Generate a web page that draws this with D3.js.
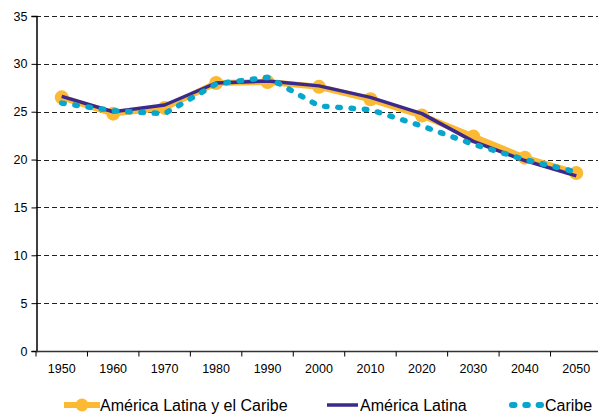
<!DOCTYPE html>
<html>
<head>
<meta charset="utf-8">
<script src="https://cdn.jsdelivr.net/npm/d3@7"></script>
<style>
  html, body { margin: 0; padding: 0; background: #fff; }
  svg { display: block; font-family: "Liberation Sans", Arial, sans-serif; }
</style>
</head>
<body>
<svg id="chart" width="598" height="415"></svg>
<script>
const years = ["1950","1960","1970","1980","1990","2000","2010","2020","2030","2040","2050"];
const alc = [26.5, 24.8, 25.4, 28.0, 28.1, 27.6, 26.3, 24.6, 22.4, 20.2, 18.6];
const al  = [26.6, 25.0, 25.7, 28.0, 28.2, 27.7, 26.5, 24.8, 21.9, 19.9, 18.3];
const caribe = [25.9, 25.1, 24.8, 27.9, 28.6, 25.6, 25.2, 23.5, 21.6, 20.0, 18.7];
const yTicks = [0, 5, 10, 15, 20, 25, 30, 35];
const seriesNames = ["América Latina y el Caribe", "América Latina", "Caribe"];

(function () {
const svg = d3.select("#chart");
const mLeft = 36, mRight = 602, mTop = 16, mBottom = 351;

const x = d3.scaleBand().domain(years).range([mLeft, mRight]);
const y = d3.scaleLinear().domain([0, 35]).range([mBottom, mTop]);
const cx = d => x(d) + x.bandwidth() / 2;

// gridlines
svg.append("g").selectAll("line").data(yTicks.filter(t => t > 0)).join("line")
  .attr("x1", mLeft).attr("x2", 598)
  .attr("y1", d => Math.round(y(d)) + 0.5).attr("y2", d => Math.round(y(d)) + 0.5)
  .attr("stroke", "#222").attr("stroke-width", 1).attr("stroke-dasharray", "5,3");

// y axis
const yAxis = svg.append("g").attr("transform", `translate(${mLeft + 0.5},0)`)
  .call(d3.axisLeft(y).tickValues(yTicks).tickSize(5).tickPadding(4));
yAxis.select(".domain").attr("stroke", "#000").attr("stroke-width", 1.5);
yAxis.selectAll(".tick line").attr("stroke", "#000");
yAxis.selectAll("text").attr("font-size", 12.5).attr("fill", "#000")
  .attr("font-family", "Liberation Sans, Arial, sans-serif");

// x axis
const xAxis = svg.append("g").attr("transform", `translate(0,${mBottom + 0.5})`);
xAxis.append("line").attr("x1", mLeft).attr("x2", mRight).attr("stroke", "#333").attr("stroke-width", 1.5);
xAxis.selectAll(".tk").data(years.concat(["end"])).join("line").attr("class", "tk")
  .attr("x1", (d, i) => mLeft + i * x.step()).attr("x2", (d, i) => mLeft + i * x.step())
  .attr("y1", 0).attr("y2", 5).attr("stroke", "#000");
xAxis.selectAll("text").data(years).join("text")
  .attr("x", d => cx(d)).attr("y", 21)
  .attr("text-anchor", "middle").attr("font-size", 12.5).attr("fill", "#000")
  .text(d => d);

const line = d3.line().x((d, i) => cx(years[i])).y(d => y(d));

// ALC orange
svg.append("path").attr("d", line(alc)).attr("fill", "none")
  .attr("stroke", "#FBB934").attr("stroke-width", 6).attr("stroke-linejoin", "round");
svg.append("g").selectAll("circle").data(alc).join("circle")
  .attr("cx", (d, i) => cx(years[i])).attr("cy", d => y(d)).attr("r", 7)
  .attr("fill", "#FBB934");

// AL purple
svg.append("path").attr("d", line(al)).attr("fill", "none")
  .attr("stroke", "#3B2A8C").attr("stroke-width", 3.5).attr("stroke-linejoin", "round");

// Caribe dotted
svg.append("path").attr("d", line(caribe)).attr("fill", "none")
  .attr("stroke", "#07A6CC").attr("stroke-width", 5.5).attr("stroke-linecap", "round")
  .attr("stroke-dasharray", "2.5,10.8");

// Legend
const lg = svg.append("g").attr("transform", "translate(0,405)");
lg.append("line").attr("x1", 64).attr("x2", 100).attr("y1", 0).attr("y2", 0)
  .attr("stroke", "#FBB934").attr("stroke-width", 6);
lg.append("circle").attr("cx", 82).attr("cy", 0).attr("r", 6.5).attr("fill", "#FBB934");
lg.append("text").attr("x", 100).attr("y", 6).attr("font-size", 16).text(seriesNames[0]);

lg.append("line").attr("x1", 327).attr("x2", 358).attr("y1", 0).attr("y2", 0)
  .attr("stroke", "#3B2A8C").attr("stroke-width", 3.5);
lg.append("text").attr("x", 360).attr("y", 6).attr("font-size", 16).text(seriesNames[1]);

lg.append("line").attr("x1", 512).attr("x2", 541).attr("y1", 0).attr("y2", 0)
  .attr("stroke", "#07A6CC").attr("stroke-width", 6).attr("stroke-linecap", "round")
  .attr("stroke-dasharray", "2.5,10.8");
lg.append("text").attr("x", 545).attr("y", 6).attr("font-size", 16).text(seriesNames[2]);
})();
</script>
</body>
</html>
